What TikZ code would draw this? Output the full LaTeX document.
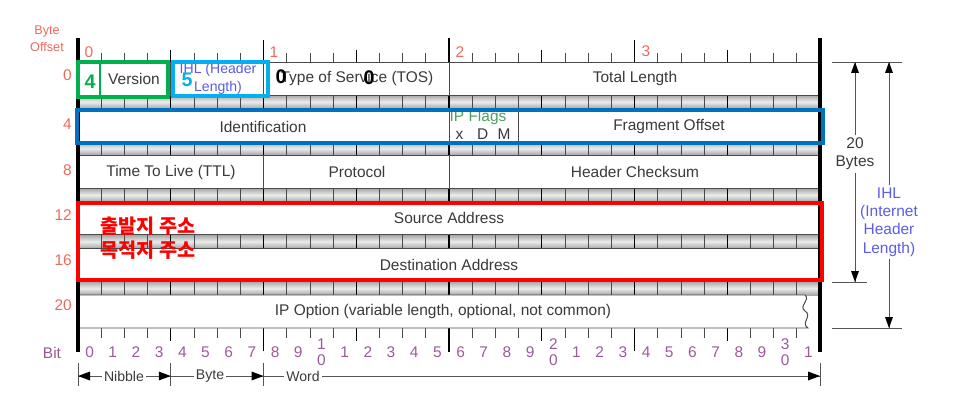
\documentclass[tikz,border=0pt]{standalone}
\usepackage{fontspec}
\setmainfont{Liberation Sans}
\newfontfamily\krfont{Noto Sans CJK KR}
\usepackage{tikz}
\usetikzlibrary{arrows.meta,positioning,calc}
\definecolor{hdrsalmon}{HTML}{F0695A}
\definecolor{hdrpurple}{HTML}{9A5A9A}
\definecolor{hdrtext}{HTML}{3A3A3A}
\definecolor{hdrdark}{HTML}{4A4A4A}
\definecolor{hdrgray}{HTML}{555555}
\definecolor{hdrihl}{HTML}{5C5CE6}
\definecolor{hdrflag}{HTML}{4FA05A}
\definecolor{markgreen}{HTML}{00B050}
\definecolor{markcyan}{HTML}{00B0F0}
\definecolor{markblue}{HTML}{0070C0}
\definecolor{markred}{HTML}{FF0000}
\tikzset{
  fieldbox/.style={draw=hdrdark,line width=0.7pt,fill=white},
  fieldtext/.style={font=\fontsize{11}{13}\selectfont,text=hdrtext,inner sep=0pt},
  offsettext/.style={font=\fontsize{11}{13}\selectfont,text=hdrsalmon,inner sep=0pt},
  bittext/.style={font=\fontsize{11}{11}\selectfont,text=hdrpurple,inner sep=0pt},
  band/.style={top color=gray!70,bottom color=gray!70,middle color=gray!15},
  bittick/.style={draw=hdrdark,line width=0.5pt},
  nibtick/.style={draw=black,line width=1pt},
  halftick/.style={draw=black,line width=2pt},
  outerline/.style={draw=black,line width=2.4pt},
  markbox/.style={line width=2.6pt},
  marknum/.style={font=\fontsize{14}{16}\selectfont\bfseries,inner sep=0pt},
  dimline/.style={draw=hdrgray,line width=0.7pt},
  tiphead/.style={fill=black},
  dimtext/.style={font=\fontsize{10}{12}\selectfont,text=hdrtext,inner sep=1.5pt,align=center}
}

\begin{document}
\begin{tikzpicture}[x=0.025cm,y=-0.025cm]
  \useasboundingbox (0,0) rectangle (960,413);

  % gray bands between the header rows
  \foreach \y in {95,141.6,188.2,234.8,281.4}{
    \fill[band] (78,\y) rectangle (820,\y+13.6);
    \foreach \i in {1,...,31}
      \draw[bittick] (78+23.1875*\i,\y) -- (78+23.1875*\i,\y+13.6);
    \foreach \i in {4,8,12,20,24,28}
      \draw[nibtick] (78+23.1875*\i,\y) -- (78+23.1875*\i,\y+13.6);
    \draw[halftick] (449,\y) -- (449,\y+13.6);
  }

  % top and bottom rulers
  \foreach \i in {1,...,31}{
    \draw[bittick] (78+23.1875*\i,53) -- (78+23.1875*\i,62);
    \draw[bittick] (78+23.1875*\i,328) -- (78+23.1875*\i,338);
  }
  \foreach \i in {4,12,20,28}{
    \draw[nibtick] (78+23.1875*\i,50) -- (78+23.1875*\i,62);
    \draw[nibtick] (78+23.1875*\i,328) -- (78+23.1875*\i,341);
  }
  \foreach \i in {8,24}{
    \draw[nibtick] (78+23.1875*\i,40) -- (78+23.1875*\i,62);
    \draw[nibtick] (78+23.1875*\i,328) -- (78+23.1875*\i,351);
  }
  \draw[halftick] (449,38) -- (449,62);
  \draw[halftick] (449,328) -- (449,352);

  % header fields
  \draw[fieldbox] (78,62) rectangle (170.75,95);
  \draw[fieldbox] (170.75,62) rectangle (263.5,95);
  \draw[fieldbox] (263.5,62) rectangle (449,95);
  \draw[fieldbox] (449,62) rectangle (820,95);
  \draw[fieldbox] (78,108.6) rectangle (449,141.6);
  \draw[fieldbox] (449,108.6) rectangle (518.6,141.6);
  \draw[fieldbox] (518.6,108.6) rectangle (820,141.6);
  \draw[fieldbox] (78,155.2) rectangle (263.5,188.2);
  \draw[fieldbox] (263.5,155.2) rectangle (449,188.2);
  \draw[fieldbox] (449,155.2) rectangle (820,188.2);
  \draw[fieldbox] (78,201.8) rectangle (820,234.8);
  \draw[fieldbox] (78,248.4) rectangle (820,281.4);
  \draw[fieldbox] (78,295) -- (805,295) .. controls (811,300) and (798,306) .. (805,311)
    .. controls (813,316) and (800,323) .. (808,328) -- (78,328) -- cycle;

  \draw[outerline] (78,38) -- (78,352);
  \draw[outerline] (820,38) -- (820,352);

  \node[fieldtext] (version) at (134,79) {Version};
  \node[fieldtext,text=hdrihl,align=center,font=\fontsize{10}{13}\selectfont] (ihl) at (218,79) {IHL (Header\\Length)};
  \node[fieldtext] (tos) at (357,79) {Type of Service (TOS)};
  \node[fieldtext] (totlen) at (635,79) {Total Length};
  \node[fieldtext] (ident) at (263,127) {Identification};
  \node[fieldtext,text=hdrflag] (flags) at (478,118) {IP Flags};
  \node[fieldtext] (flagbits) at (483,134) {x\hspace{0.9em}D\hspace{0.6em}M};
  \node[fieldtext] (fragoff) at (669,127) {Fragment Offset};
  \node[fieldtext] (ttl) at (171,172) {Time To Live (TTL)};
  \node[fieldtext] (proto) at (357,172) {Protocol};
  \node[fieldtext] (checksum) at (635,172) {Header Checksum};
  \node[fieldtext] (srcaddr) at (449,218) {Source Address};
  \node[fieldtext] (dstaddr) at (449,265) {Destination Address};
  \node[fieldtext] (ipopt) at (443,311) {IP Option (variable length, optional, not common)};

  % byte offsets
  \node[offsettext,align=center,font=\fontsize{9}{12}\selectfont] (offhead) at (47,39) {Byte\\Offset};
  \node[offsettext,anchor=east] (off0) at (72,75) {0};
  \node[offsettext,anchor=east] (off4) at (72,124) {4};
  \node[offsettext,anchor=east] (off8) at (72,170) {8};
  \node[offsettext,anchor=east] (off12) at (72,215) {12};
  \node[offsettext,anchor=east] (off16) at (72,260) {16};
  \node[offsettext,anchor=east] (off20) at (72,305) {20};
  \node[offsettext] (byte0) at (89,52) {0};
  \node[offsettext] (byte1) at (274,52) {1};
  \node[offsettext] (byte2) at (460,52) {2};
  \node[offsettext] (byte3) at (646,51) {3};

  % bit numbers
  \node[bittext] (bitlabel) at (52,353) {Bit};
  \foreach \i in {0,...,31}{
    \pgfmathtruncatemacro\digit{mod(\i,10)}
    \ifnum\i>9 \ifnum\digit=0
      \pgfmathtruncatemacro\tens{\i/10}
      \node[bittext] (bit\i) at (89.6+23.1875*\i,352) {\shortstack{\tens\\[1pt]0}};
    \else
      \node[bittext] (bit\i) at (89.6+23.1875*\i,352) {\digit};
    \fi\else
      \node[bittext] (bit\i) at (89.6+23.1875*\i,352) {\digit};
    \fi
  }

  % nibble, byte, word
  \foreach \x/\n in {78/barA,170.75/barB,263.5/barC,820/barD}{
    \draw[dimline] (\x,363) -- (\x,386);
    \coordinate (\n) at (\x,376);
  }
  \node[dimtext] (nibble) at (124,376) {Nibble};
  \node[dimtext] (byte) at (210,376) {Byte};
  \node[dimtext] (word) at (303,376) {Word};
  \draw[dimline] (nibble) -- (barA);
  \draw[dimline] (nibble) -- (barB);
  \draw[dimline] (byte) -- (barB);
  \draw[dimline] (byte) -- (barC);
  \draw[dimline] (word) -- (barC);
  \draw[dimline] (word) -- (barD);
  \fill[tiphead] (barA) -- ++(12,-4.5) -- ++(0,9) -- cycle;
  \fill[tiphead] (barB) -- ++(-12,-4.5) -- ++(0,9) -- cycle;
  \fill[tiphead] (barC) -- ++(-12,-4.5) -- ++(0,9) -- cycle;
  \fill[tiphead] (barD) -- ++(-12,-4.5) -- ++(0,9) -- cycle;

  % header length on the right
  \draw[dimline] (832,62) -- (902,62);
  \draw[dimline] (832,282) -- (867,282);
  \draw[dimline] (832,328) -- (902,328);
  \coordinate (bytestop) at (855,62);
  \coordinate (bytesbot) at (855,282);
  \coordinate (ihltop) at (889,62);
  \coordinate (ihlbot) at (889,328);
  \node[dimtext,font=\fontsize{11}{13}\selectfont] (twenty) at (855,154) {20\\Bytes};
  \node[dimtext,font=\fontsize{11}{13}\selectfont,text=hdrihl] (ihlfull) at (889,222) {IHL\\(Internet\\Header\\Length)};
  \draw[dimline] (twenty) -- (bytestop);
  \draw[dimline] (twenty) -- (bytesbot);
  \draw[dimline] (ihlfull) -- (ihltop);
  \draw[dimline] (ihlfull) -- (ihlbot);
  \fill[tiphead] (bytestop) -- ++(-4,11) -- ++(8,0) -- cycle;
  \fill[tiphead] (ihltop) -- ++(-4,11) -- ++(8,0) -- cycle;
  \fill[tiphead] (bytesbot) -- ++(-4,-11) -- ++(8,0) -- cycle;
  \fill[tiphead] (ihlbot) -- ++(-4,-11) -- ++(8,0) -- cycle;

  % marks drawn over the header
  \draw[markbox,draw=markgreen] (78,62) rectangle (168,97);
  \draw[draw=markgreen,line width=1.5pt] (100,62) -- (100,97);
  \draw[markbox,draw=markcyan] (173,62) rectangle (268,96);
  \draw[markbox,draw=markblue] (77,110) rectangle (823,143);
  \draw[markbox,draw=markred] (78,203) rectangle (822,280);
  \node[marknum,text=markgreen] (numfour) at (90,82) {4};
  \node[marknum,text=markcyan] (numfive) at (187,80) {5};
  \node[marknum,text=black] (numzeroa) at (281,77) {0};
  \node[marknum,text=black] (numzerob) at (369,78) {0};
  \node[font=\krfont\fontsize{14}{17}\selectfont\bfseries,text=markred,align=left,anchor=north west,inner sep=0pt] (krnote) at (100,217) {출발지 주소\\목적지 주소};
\end{tikzpicture}
\end{document}
